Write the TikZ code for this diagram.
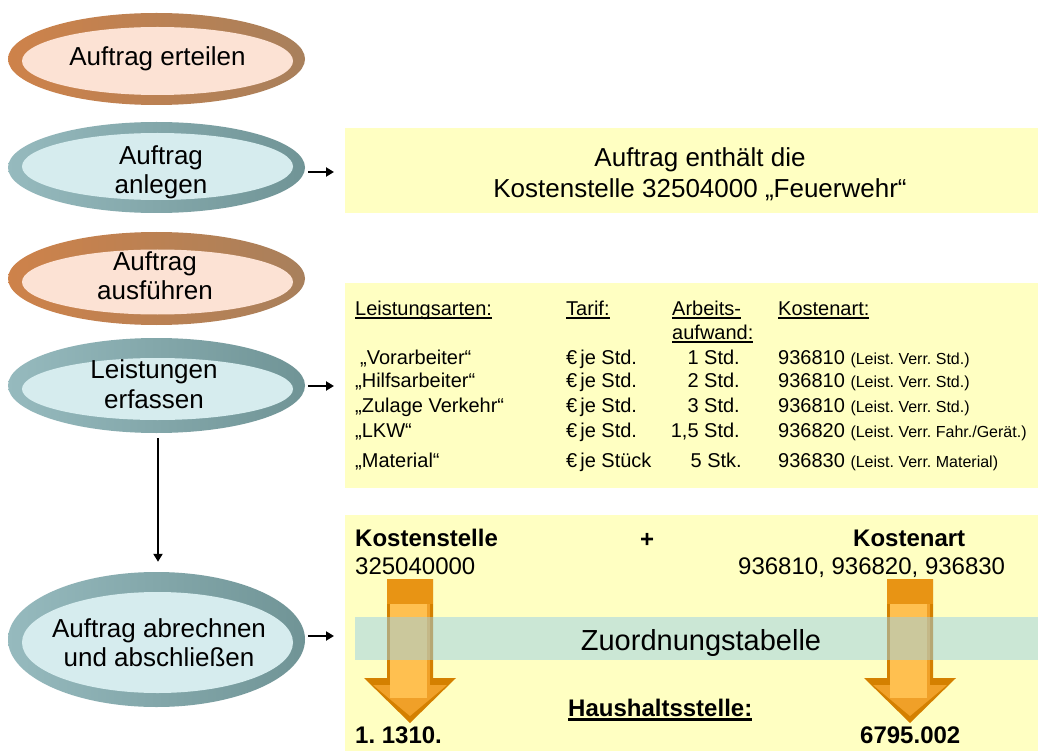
\documentclass[tikz,border=0pt]{standalone}
\usepackage{fontspec}
\setmainfont{Liberation Sans}
\usetikzlibrary{shapes.geometric,arrows.meta}
\definecolor{boxy}{RGB}{255,255,194}
\definecolor{rimOL}{RGB}{206,130,74}
\definecolor{rimOR}{RGB}{168,128,92}
\definecolor{faceOc}{RGB}{252,226,212}
\definecolor{rimTL}{RGB}{150,186,190}
\definecolor{rimTR}{RGB}{112,148,150}
\definecolor{faceTc}{RGB}{214,236,238}
\definecolor{bandc}{RGB}{153,209,232}
\definecolor{arD}{RGB}{212,128,0}
\definecolor{arM}{RGB}{232,148,20}
\definecolor{arF}{RGB}{240,160,40}
\definecolor{arL}{RGB}{255,192,80}
\newcommand\ulx[3]{\setbox0=\hbox{#3}\rlap{\rule[-#1]{\wd0}{#2}}\box0}
\newcommand\bigarr[1]{%
\begin{scope}[xshift=#1pt]
\fill[arD] (-23,579) -- (23,579) -- (23,678) -- (46,678) -- (0,723) -- (-46,678) -- (-23,678) -- cycle;
\fill[arM] (-23,579) rectangle (23,604);
\fill[arF] (-37,685) -- (37,685) -- (0,716) -- cycle;
\fill[arL] (-20,604) rectangle (17,698);
\fill[arF] (17,604) rectangle (20,690);
\end{scope}}
\tikzset{
  ybox/.style={rectangle, fill=boxy, draw=none, inner sep=0, anchor=north west, minimum width=693pt},
  rimO/.style={ellipse, inner sep=0, minimum width=297pt, left color=rimOL, right color=rimOR},
  rimT/.style={ellipse, inner sep=0, minimum width=297pt, left color=rimTL, right color=rimTR},
  faceO/.style={ellipse, inner sep=0, minimum width=271pt, fill=faceOc},
  faceT/.style={ellipse, inner sep=0, minimum width=271pt, fill=faceTc},
  etext/.style={anchor=base, inner sep=0, font=\fontsize{26}{29}\selectfont},
  btext/.style={anchor=base, inner sep=0, font=\fontsize{26}{29}\selectfont},
  tx/.style={anchor=base west, inner sep=0, font=\fontsize{20}{24}\selectfont},
  txr/.style={anchor=base east, inner sep=0, font=\fontsize{20}{24}\selectfont},
  tb/.style={anchor=base west, inner sep=0, font=\fontsize{24}{28}\selectfont\bfseries},
  tn/.style={anchor=base west, inner sep=0, font=\fontsize{24}{28}\selectfont},
  band/.style={rectangle, fill=bandc, fill opacity=0.5, draw=none, inner sep=0, anchor=north west},
  blk/.style={-{Triangle[length=8pt,width=9pt]}, line width=2.5pt, black}
}
\newcommand\sm[1]{{\fontsize{16}{20}\selectfont #1}}
\frenchspacing
\begin{document}
\frenchspacing
\begin{tikzpicture}[x=1pt,y=-1pt]
\useasboundingbox (0,0) rectangle (1038,751);
\fill[white] (0,0) rectangle (1038,751);

% ellipses
\node[rimO, minimum height=92pt] (e1) at (156.5,59) {};
\node[faceO, minimum height=68pt] (f1) at (157.5,61) {};
\node[etext] (t1) at (157.5,65.5) {Auftrag erteilen};

\node[rimT, minimum height=91pt] (e2) at (156.5,167.5) {};
\node[faceT, minimum height=67pt] (f2) at (157.5,166.5) {};
\node[etext] (t2a) at (161,165) {Auftrag};
\node[etext] (t2b) at (161,193.5) {anlegen};

\node[rimO, minimum height=93pt] (e3) at (156.5,278.5) {};
\node[faceO, minimum height=65pt] (f3) at (157.5,282) {};
\node[etext] (t3a) at (155,270) {Auftrag};
\node[etext] (t3b) at (155,299) {ausführen};

\node[rimT, minimum height=95pt] (e4) at (156.5,385.5) {};
\node[faceT, minimum height=62pt] (f4) at (157.5,389) {};
\node[etext] (t4a) at (154,378) {Leistungen};
\node[etext] (t4b) at (154,408) {erfassen};

\node[rimT, minimum height=135pt] (e5) at (156.5,639.5) {};
\node[faceT, minimum height=101pt] (f5) at (157.5,642.5) {};
\node[etext] (t5a) at (159,637) {Auftrag abrechnen};
\node[etext] (t5b) at (159,666) {und abschließen};

% boxes
\node[ybox, minimum height=85pt] (b1) at (345,128) {};
\node[ybox, minimum height=205pt] (b2) at (345,283) {};
\node[ybox, minimum height=236pt] (b3) at (345,515) {};

% connectors
\coordinate (s2) at ([yshift=-4.5pt]e2.east);
\coordinate (s4) at ([yshift=-0.5pt]e4.east);
\coordinate (s5) at ([yshift=3.5pt]e5.east);
\draw[blk, shorten <=3pt, shorten >=11pt] (s2) -- (s2 -| b1.west);
\draw[blk, shorten <=3pt, shorten >=11pt] (s4) -- (s4 -| b2.west);
\draw[blk, shorten <=3pt, shorten >=11pt] (s5) -- (s5 -| b3.west);
\coordinate (v1) at ([xshift=1.5pt]e4.south);
\coordinate (v2) at ([xshift=1.5pt]e5.north);
\draw[blk, shorten <=5pt, shorten >=10pt] (v1) -- (v2);

% box 1 text
\node[btext] (k1) at (700,167) {Auftrag enthält die};
\node[btext] (k2) at (700,198) {Kostenstelle 32504000 „Feuerwehr“};

% table
\node[tx] (h1) at (355,315) {\ulx{3.5pt}{1.5pt}{Leistungsarten:}};
\node[tx] (h2) at (566,315) {\ulx{3.5pt}{1.5pt}{Tarif:}};
\node[tx] (h3) at (672,315) {\ulx{3.5pt}{1.5pt}{Arbeits-}};
\node[tx] (h3b) at (672,339) {\ulx{3.5pt}{1.5pt}{aufwand:}};
\node[tx] (h4) at (778,315) {\ulx{3.5pt}{1.5pt}{Kostenart:}};

\node[tx] (r1a) at (360,364) {„Vorarbeiter“};
\node[tx] (r2a) at (355,387) {„Hilfsarbeiter“};
\node[tx] (r3a) at (355,412) {„Zulage Verkehr“};
\node[tx] (r4a) at (355,437) {„LKW“};
\node[tx] (r5a) at (355,467) {„Material“};

\node[tx] (r1b) at (566,364) {€\hspace{3pt}je Std.};
\node[tx] (r2b) at (566,387) {€\hspace{3pt}je Std.};
\node[tx] (r3b) at (566,412) {€\hspace{3pt}je Std.};
\node[tx] (r4b) at (566,437) {€\hspace{3pt}je Std.};
\node[tx] (r5b) at (566,467) {€\hspace{3pt}je Stück};

\node[txr] (r1c) at (740,364) {1 Std.};
\node[txr] (r2c) at (740,387) {2 Std.};
\node[txr] (r3c) at (740,412) {3 Std.};
\node[txr] (r4c) at (740,437) {1,5 Std.};
\node[txr] (r5c) at (742,467) {5 Stk.};

\node[tx] (r1d) at (778,364) {936810 \sm{(Leist. Verr. Std.)}};
\node[tx] (r2d) at (778,387) {936810 \sm{(Leist. Verr. Std.)}};
\node[tx] (r3d) at (778,412) {936810 \sm{(Leist. Verr. Std.)}};
\node[tx] (r4d) at (778,437) {936820 \sm{(Leist. Verr. Fahr./Gerät.)}};
\node[tx] (r5d) at (778,467) {936830 \sm{(Leist. Verr. Material)}};

% box 3
\bigarr{410}
\bigarr{910}
\node[band, minimum width=683pt, minimum height=43pt] (zt) at (355,617) {};
\node[anchor=base, inner sep=0, font=\fontsize{29}{33}\selectfont] (ztt) at (701,650.5) {Zuordnungstabelle};

\node[tb] (ks) at (355,546.5) {Kostenstelle};
\node[inner sep=0, font=\fontsize{24}{28}\selectfont\bfseries] (pl) at (647,540) {+};
\node[tb] (ka) at (853,546.5) {Kostenart};
\node[tn] (ksn) at (355,574) {325040000};
\node[tn] (kan) at (738,574) {936810, 936820, 936830};
\node[tb] (hh) at (568,716) {\ulx{4.5pt}{2.5pt}{Haushaltsstelle:}};
\node[tb] (hl) at (355,743) {1. 1310.};
\node[tb] (hr) at (860,743) {6795.002};
\end{tikzpicture}
\end{document}
